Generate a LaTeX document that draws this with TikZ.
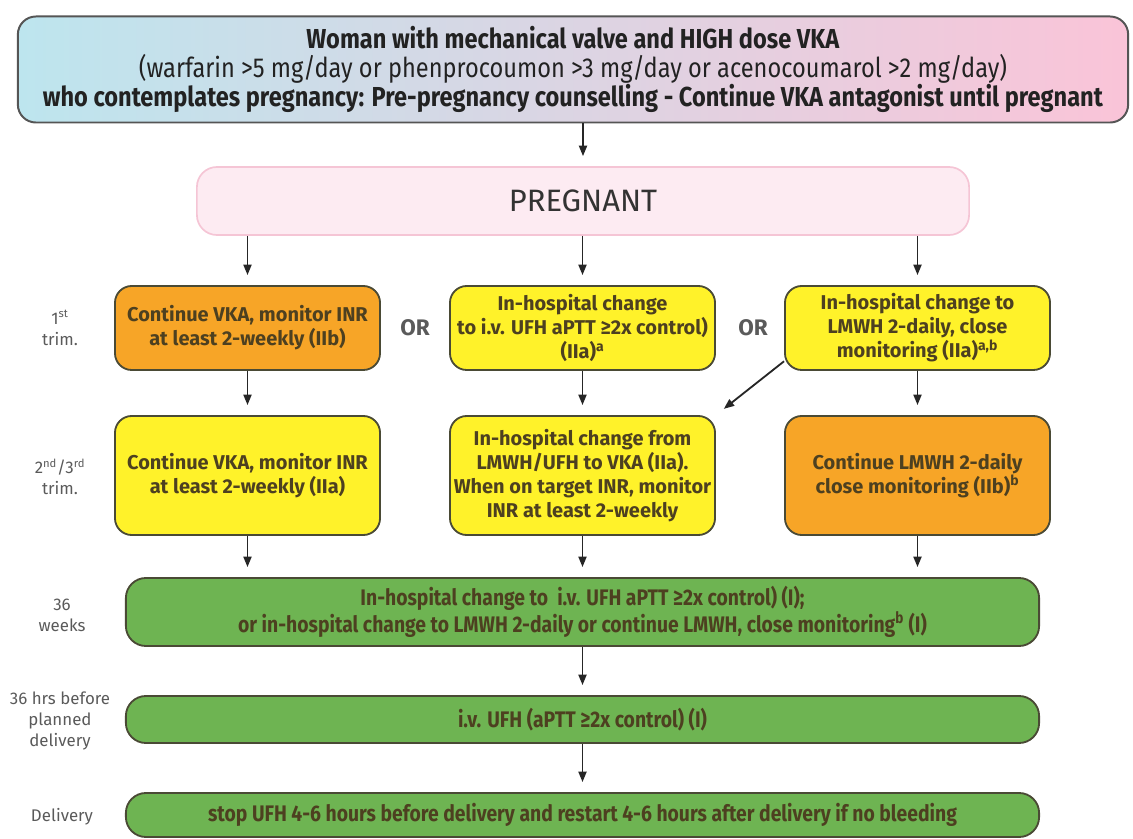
\documentclass[tikz,border=0pt]{standalone}
\usepackage{fontspec}
\setmainfont{Fira Sans}
\newfontfamily\narrowsans[FakeStretch=0.86]{Fira Sans}
\usepackage{tikz}
\usetikzlibrary{arrows.meta,positioning}

\definecolor{boxline}{HTML}{4A4A35}
\definecolor{boxtext}{HTML}{4D4020}
\definecolor{vkaorange}{HTML}{F7A527}
\definecolor{vkayellow}{HTML}{FFF22A}
\definecolor{uhgreen}{HTML}{6EB452}
\definecolor{topblue}{HTML}{BDE5EE}
\definecolor{toppink}{HTML}{FAC4D8}
\definecolor{topline}{HTML}{555555}
\definecolor{toptext}{HTML}{222222}
\definecolor{pregfill}{HTML}{FDEBF2}
\definecolor{pregline}{HTML}{F5C5D5}
\definecolor{pregtext}{HTML}{333333}
\definecolor{labelgrey}{HTML}{5A5A5A}
\definecolor{arrowgrey}{HTML}{262626}

\begin{document}
\begin{tikzpicture}[
  x=0.025cm, y=-0.025cm,
  box/.style={rectangle, draw=boxline, line width=1.3pt, rounded corners=0.42cm,
    align=center, inner sep=2pt, text=boxtext, minimum width=6.625cm,
    font=\bfseries\fontsize{14.2}{17}\selectfont},
  orangebox/.style={box, fill=vkaorange},
  yellowbox/.style={box, fill=vkayellow},
  firsttri/.style={minimum height=2.1cm},
  latertri/.style={minimum height=2.975cm},
  greenbox/.style={box, fill=uhgreen, minimum width=22.825cm, rounded corners=0.5cm,
    font=\narrowsans\bfseries\fontsize{16}{17.5}\selectfont},
  rowlabel/.style={align=center, text=labelgrey, font=\fontsize{12}{15}\selectfont},
  ortext/.style={text=labelgrey, font=\bfseries\fontsize{16}{18}\selectfont},
  arrow/.style={-{Triangle[length=0.26cm,width=0.2cm]}, line width=1.3pt,
    arrowgrey, shorten >=0.25cm}
]
  \useasboundingbox (0,0) rectangle (1133,839);

  % counselling and pregnancy
  \node[draw=topline, line width=1.4pt, rounded corners=0.45cm,
    left color=topblue, right color=toppink, minimum width=27.75cm,
    minimum height=2.65cm, align=center, text=toptext,
    font=\narrowsans\fontsize{19.5}{20.5}\selectfont] (vka) at (573,69.5)
    {\textbf{Woman with mechanical valve and HIGH dose VKA}\\
     (warfarin >5 mg/day or phenprocoumon >3 mg/day or acenocoumarol >2 mg/day)\\
     \textbf{who contemplates pregnancy: Pre-pregnancy counselling - Continue VKA antagonist until pregnant}};
  \node[draw=pregline, line width=1.2pt, fill=pregfill, rounded corners=0.5cm,
    minimum width=19.3cm, minimum height=1.7cm, text=pregtext,
    font=\fontsize{22}{26}\selectfont] (preg) at (583,201) {PREGNANT};

  % first trimester
  \node[orangebox, firsttri] (vka1) at (247.5,328) {Continue VKA, monitor INR\\at least 2-weekly (IIb)};
  \node[yellowbox, firsttri] (ufh1) at (582.5,328) {In-hospital change\\to i.v. UFH aPTT ≥2x control)\\(IIa)\textsuperscript{a}};
  \node[yellowbox, firsttri] (lmwh1) at (917.5,328) {In-hospital change to\\LMWH 2-daily, close\\monitoring (IIa)\textsuperscript{a,b}};
  \node[ortext] (or1) at (415,328) {OR};
  \node[ortext] (or2) at (753,328) {OR};

  % second and third trimester
  \node[yellowbox, latertri] (vka2) at (247.5,475.5) {Continue VKA, monitor INR\\at least 2-weekly (IIa)};
  \node[yellowbox, latertri] (ufh2) at (582.5,475.5) {In-hospital change from\\LMWH/UFH to VKA (IIa).\\When on target INR, monitor\\INR at least 2-weekly};
  \node[orangebox, latertri] (lmwh2) at (917.5,475.5) {Continue LMWH 2-daily\\close monitoring (IIb)\textsuperscript{b}};

  % towards delivery
  \node[greenbox, minimum height=1.7cm] (wk36) at (582.5,612)
    {In-hospital change to \ i.v. UFH aPTT ≥2x control) (I);\\or in-hospital change to LMWH 2-daily or continue LMWH, close monitoring\textsuperscript{b} (I)};
  \node[greenbox, minimum height=1.175cm] (hrs36) at (582.5,719.5) {i.v. UFH (aPTT ≥2x control) (I)};
  \node[greenbox, minimum height=1.1cm] (deliv) at (582.5,815)
    {stop UFH 4-6 hours before delivery and restart 4-6 hours after delivery if no bleeding};

  % stage labels
  \node[rowlabel] (lab1) at (60,328) {1\textsuperscript{st}\\trim.};
  \node[rowlabel] (lab2) at (60,477) {2\textsuperscript{nd}/3\textsuperscript{rd}\\trim.};
  \node[rowlabel] (lab3) at (62,615) {36\\weeks};
  \node[rowlabel] (lab4) at (60,721) {36 hrs before\\planned\\delivery};
  \node[rowlabel] (lab5) at (62,817) {Delivery};

  \draw[arrow] (vka.south -| preg) -- (preg);
  \foreach \n in {vka1,ufh1,lmwh1}
    \draw[arrow] (preg.south -| \n) -- (\n);
  \draw[arrow] (vka1) -- (vka2);
  \draw[arrow] (ufh1) -- (ufh2);
  \draw[arrow] (lmwh1) -- (lmwh2);
  \draw[arrow] (lmwh1.194) -- (ufh2.north east);
  \foreach \n in {vka2,ufh2,lmwh2}
    \draw[arrow] (\n) -- (\n |- wk36.north);
  \draw[arrow] (wk36) -- (hrs36);
  \draw[arrow] (hrs36) -- (deliv);
\end{tikzpicture}
\end{document}
